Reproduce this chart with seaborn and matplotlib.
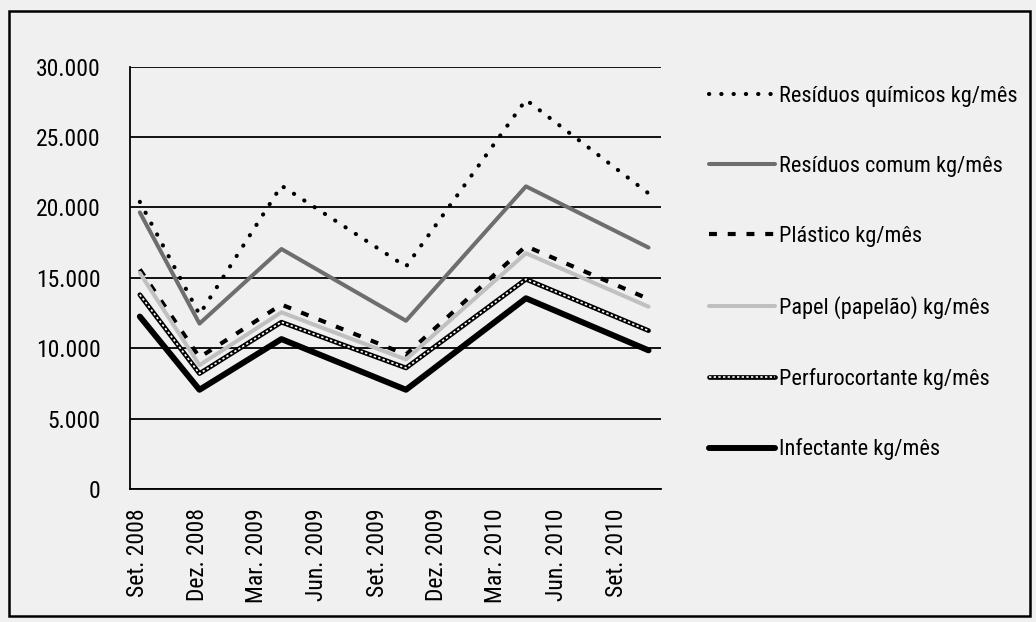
import pandas as pd
import seaborn as sns
import matplotlib.pyplot as plt
import matplotlib.patches as mpatches
from matplotlib import font_manager
from matplotlib.lines import Line2D
from matplotlib.legend_handler import HandlerTuple
from matplotlib.ticker import FuncFormatter

# data (kg/mês)
datas = ['2008-09-04', '2008-12-04', '2009-04-08', '2009-10-15', '2010-04-16', '2010-10-20']
quimicos = [20400, 12400, 21550, 15800, 27650, 21000]
comum = [19650, 11750, 17050, 11950, 21500, 17150]
plastico = [15600, 9350, 13100, 9550, 17250, 13500]
papel = [15350, 8800, 12550, 9200, 16750, 12950]
perfuro = [13800, 8200, 11850, 8600, 14900, 11250]
infectante = [12250, 7050, 10650, 7050, 13550, 9850]

tick_datas = ['2008-09-01', '2008-12-01', '2009-03-01', '2009-06-01', '2009-09-01',
              '2009-12-01', '2010-03-01', '2010-06-01', '2010-09-01']
tick_labels = ['Set. 2008', 'Dez. 2008', 'Mar. 2009', 'Jun. 2009', 'Set. 2009',
               'Dez. 2009', 'Mar. 2010', 'Jun. 2010', 'Set. 2010']
y_ticks = [0, 5000, 10000, 15000, 20000, 25000, 30000]

nomes = ['Resíduos químicos kg/mês', 'Resíduos comum kg/mês', 'Plástico kg/mês',
         'Papel (papelão) kg/mês', 'Perfurocortante kg/mês', 'Infectante kg/mês']

df = pd.DataFrame({'data': pd.to_datetime(datas), 'quimicos': quimicos, 'comum': comum,
                   'plastico': plastico, 'papel': papel, 'perfuro': perfuro,
                   'infectante': infectante})

sns.set_style('white')

# pick a narrow face if one is installed
fonts = font_manager.fontManager.ttflist
familias = {f.name for f in fonts}
narrow = [f for f in fonts if f.stretch in ('condensed', 'semi-condensed', 'extra-condensed')
          or 'Narrow' in f.name or 'Condensed' in f.name]
fam = None
for nome in ['Liberation Sans Narrow', 'Arial Narrow', 'Roboto Condensed', 'DejaVu Sans Condensed',
             'Open Sans Condensed', 'Noto Sans Condensed']:
    if nome in familias:
        fam = nome
        break
stretch = 'normal'
if fam is None and narrow:
    fam = narrow[0].name
    stretch = narrow[0].stretch
if fam is None:
    fam = 'DejaVu Sans'
plt.rcParams['font.family'] = [fam, 'DejaVu Sans']
plt.rcParams['font.stretch'] = stretch
plt.rcParams.update({'text.color': 'black', 'xtick.color': 'black', 'ytick.color': 'black'})
fs = 17 if fam != 'DejaVu Sans' else 14
fs_leg = fs - 1

bg = '#f0f0f0'
fig = plt.figure(figsize=(10.36, 6.22), dpi=100, facecolor=bg)
ax = fig.add_axes([130 / 1036, 1 - 489 / 622, 531 / 1036, 422.3 / 622])
ax.set_facecolor(bg)

estilos = {
    'quimicos': dict(color='black', lw=3.0, linestyle=(0, (0.05, 2.9)), dash_capstyle='round'),
    'comum': dict(color='#6e6e6e', lw=2.9, linestyle='-'),
    'plastico': dict(color='black', lw=3.0, linestyle=(0, (1.9, 2.6))),
    'papel': dict(color='#c0c0c0', lw=2.9, linestyle='-'),
    'infectante': dict(color='black', lw=4.3, linestyle='-'),
}

for col in ['quimicos', 'comum', 'plastico', 'papel']:
    sns.lineplot(data=df, x='data', y=col, ax=ax, legend=False, zorder=3, **estilos[col])
# perfurocortante: black chain with white inside
sns.lineplot(data=df, x='data', y='perfuro', ax=ax, legend=False, color='black', lw=3.4, zorder=3)
sns.lineplot(data=df, x='data', y='perfuro', ax=ax, legend=False, color='white', lw=1.2,
             linestyle=(0, (1.4, 1.4)), zorder=3)
sns.lineplot(data=df, x='data', y='infectante', ax=ax, legend=False, zorder=3, **estilos['infectante'])

ax.set_xlim(pd.Timestamp('2008-08-20'), pd.Timestamp('2010-11-08'))
ax.set_ylim(0, 30000)
ax.set_xticks(pd.to_datetime(tick_datas))
ax.set_xticklabels(tick_labels, rotation=90, fontsize=fs)
ax.set_yticks(y_ticks)
ax.yaxis.set_major_formatter(FuncFormatter(lambda v, p: f'{int(v):,}'.replace(',', '.')))
ax.tick_params(axis='y', length=7.2, width=1.3, color='black', pad=14, labelsize=fs)
ax.tick_params(axis='x', length=0, pad=14)
ax.set_xlabel('')
ax.set_ylabel('')

ax.grid(axis='y', color='black', lw=1.3, zorder=1)
ax.set_axisbelow(True)
for s in ['top', 'right']:
    ax.spines[s].set_visible(False)
for s in ['left', 'bottom']:
    ax.spines[s].set_color('black')
    ax.spines[s].set_linewidth(1.3)

handles = [Line2D([], [], **estilos['quimicos']),
           Line2D([], [], **estilos['comum']),
           Line2D([], [], **estilos['plastico']),
           Line2D([], [], **estilos['papel']),
           (Line2D([], [], color='black', lw=3.4),
            Line2D([], [], color='white', lw=1.2, linestyle=(0, (1.4, 1.4)))),
           Line2D([], [], **estilos['infectante'])]
fs_px = fs_leg * 100 / 72
fig.legend(handles, nomes, loc='upper left', bbox_to_anchor=(709 / 1036, 1 - 86 / 622),
           frameon=False, fontsize=fs_leg, handlelength=66 / fs_px, handletextpad=4 / fs_px,
           labelspacing=2.2, borderpad=0, borderaxespad=0,
           handler_map={tuple: HandlerTuple(ndivide=1)})

fig.patches.append(mpatches.Rectangle((9 / 1036, 1 - 616 / 622), 1021 / 1036, 605 / 622,
                                      transform=fig.transFigure, fill=False,
                                      edgecolor='black', lw=1.8))

fig.savefig('out.png', dpi=100, facecolor=bg)
